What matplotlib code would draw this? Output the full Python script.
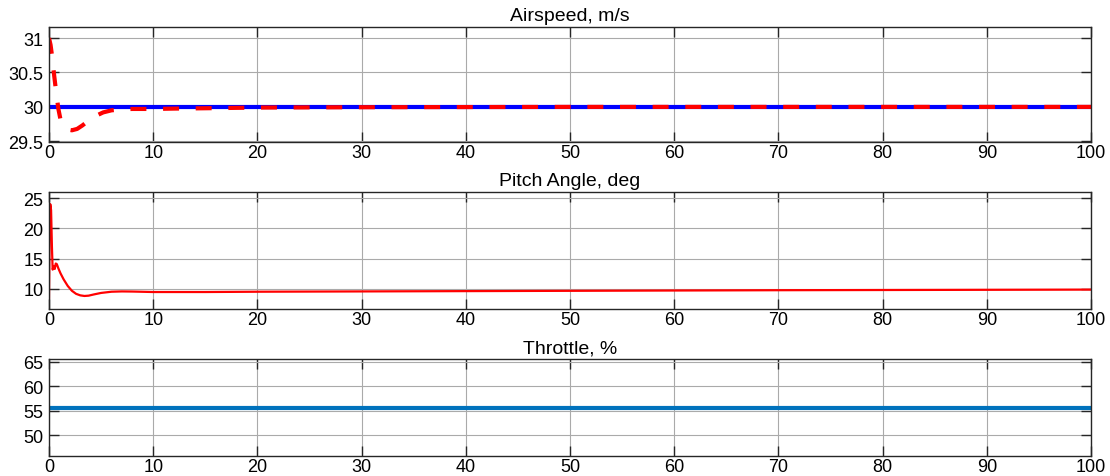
import matplotlib.pyplot as plt
import matplotlib as mpl

mpl.rcParams['font.family'] = ['Liberation Sans', 'DejaVu Sans']
mpl.rcParams['lines.scale_dashes'] = False

# airspeed response and command, m/s
t_air = [0, 0.15, 0.3, 0.5, 0.7, 0.9, 1.1, 1.4, 1.8, 2.2, 2.7, 3.2, 3.8, 4.5, 5.2, 6, 7, 8, 10, 12, 15, 20, 30, 50, 100]
v_air = [31.0, 30.9, 30.73, 30.45, 30.2, 29.97, 29.82, 29.72, 29.67, 29.66, 29.68, 29.73, 29.8, 29.87, 29.92, 29.95, 29.965, 29.97, 29.97, 29.975, 29.98, 29.99, 29.995, 30.0, 30.0]
t_cmd = [0, 100]
v_cmd = [30.0, 30.0]

# pitch angle, deg
t_pitch = [0, 0.05, 0.12, 0.2, 0.28, 0.35, 0.45, 0.55, 0.65, 0.75, 0.9, 1.1, 1.4, 1.8, 2.2, 2.6, 3.0, 3.4, 3.8, 4.3, 5, 6, 7, 8, 10, 15, 20, 30, 50, 70, 100]
pitch = [8.5, 18.0, 24.0, 23.0, 17.0, 13.2, 13.8, 13.3, 14.2, 14.1, 13.4, 12.6, 11.6, 10.5, 9.7, 9.2, 8.95, 8.85, 8.9, 9.1, 9.35, 9.55, 9.6, 9.58, 9.5, 9.5, 9.55, 9.6, 9.7, 9.8, 9.9]

# throttle, %
t_thr = [0, 100]
throttle = [55.6, 55.6]

fig = plt.figure(figsize=(11.1, 4.77), dpi=100)
ax1 = fig.add_axes([49/1110, 1-143/477, 1042/1110, 115/477])
ax2 = fig.add_axes([49/1110, 1-310/477, 1042/1110, 117/477])
ax3 = fig.add_axes([49/1110, 1-457/477, 1042/1110, 97/477])

ax1.plot(t_cmd, v_cmd, '-', color='#0000ff', linewidth=3.0)
ax1.plot(t_air, v_air, '--', color='#ff0000', linewidth=3.0, dashes=(11.5, 12))
ax1.set_ylim(29.49, 31.16)
ax1.set_yticks([29.5, 30, 30.5, 31])
ax1.set_yticklabels(['29.5', '30', '30.5', '31'])
ax1.set_title('Airspeed, m/s', fontsize=14, pad=5)

ax2.plot(t_pitch, pitch, '-', color='#ff0000', linewidth=1.6)
ax2.set_ylim(6.7, 26)
ax2.set_yticks([10, 15, 20, 25])
ax2.set_title('Pitch Angle, deg', fontsize=14, pad=5)

ax3.plot(t_thr, throttle, '-', color='#0072bd', linewidth=3.0)
ax3.set_ylim(45.7, 65.6)
ax3.set_yticks([50, 55, 60, 65])
ax3.set_title('Throttle, %', fontsize=14, pad=5)

for ax in fig.axes:
    ax.set_xlim(0, 100)
    ax.set_xticks(range(0, 101, 10))
    ax.grid(True, color='#aaaaaa', linewidth=0.8)
    ax.tick_params(direction='in', length=7, width=1.0, color='#262626',
                   labelsize=13, top=True, right=True, pad=4)
    ax.tick_params(axis='x', pad=1.5)
    for s in ax.spines.values():
        s.set_color('#262626')
        s.set_linewidth(1.0)
    ax.set_axisbelow(True)

fig.savefig('out.png', dpi=100)
